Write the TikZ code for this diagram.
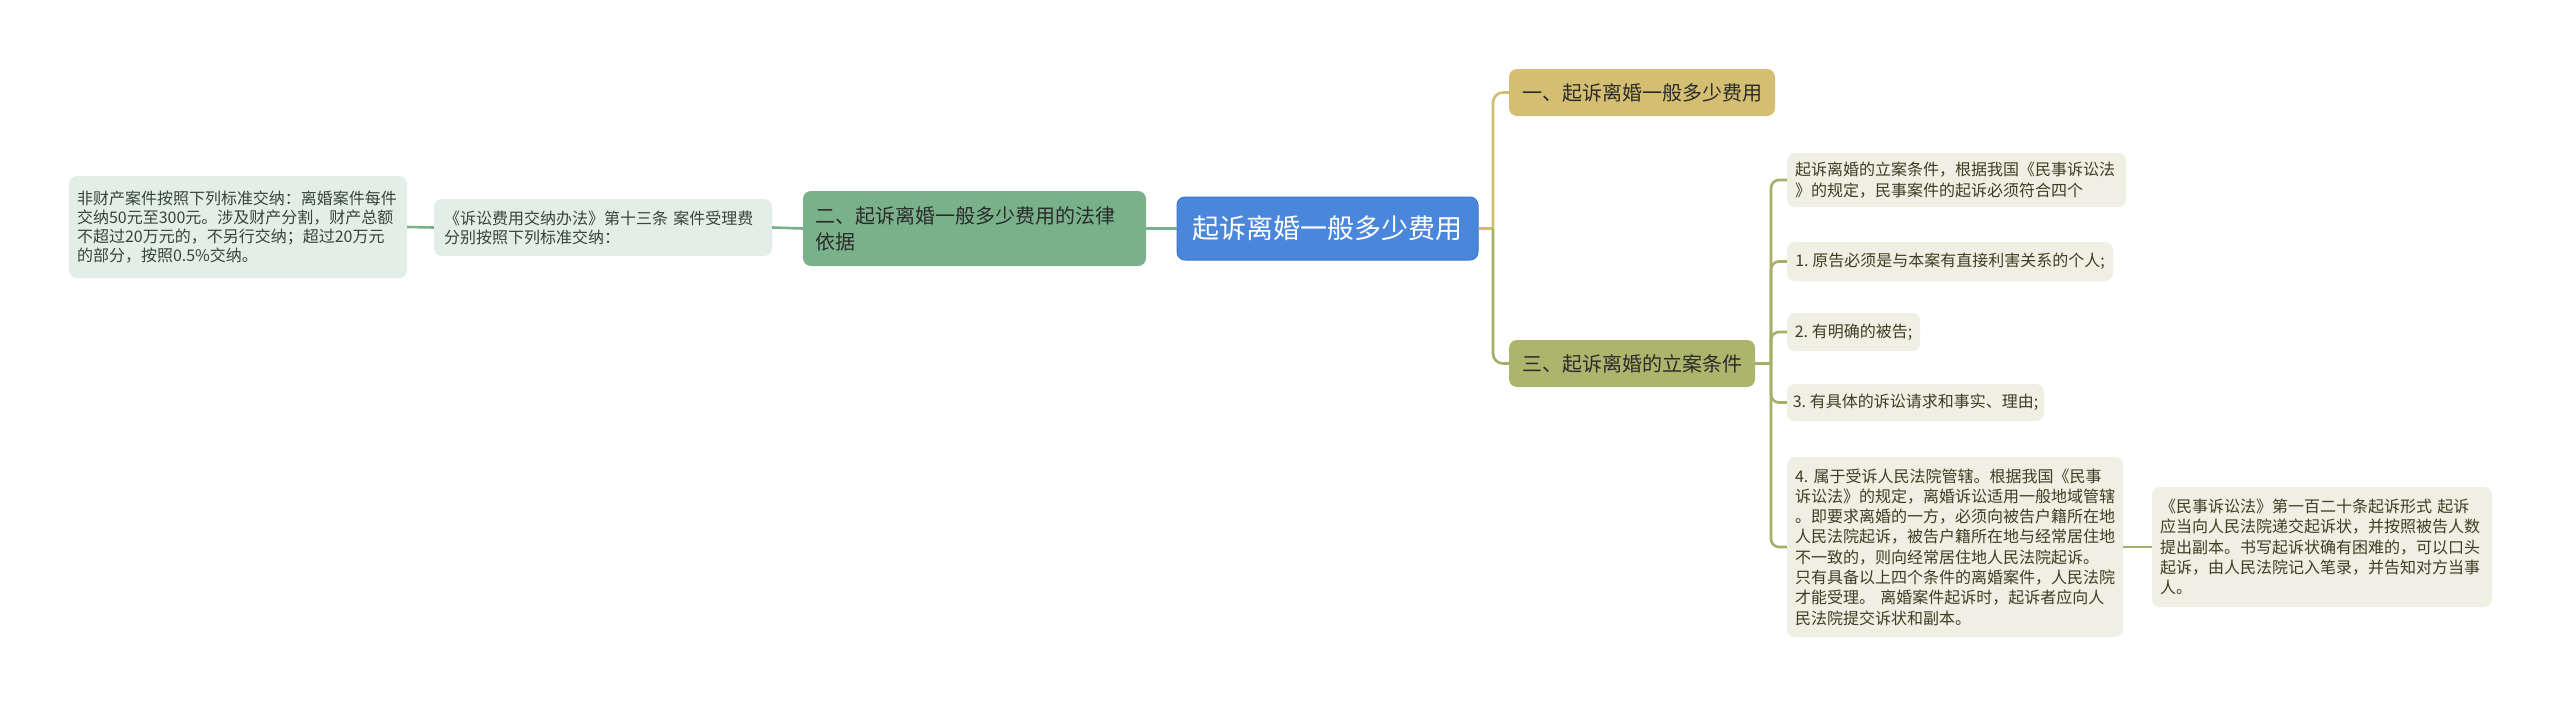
\documentclass[tikz,border=0pt]{standalone}
\usepackage{fontspec}
\setmainfont{Noto Sans CJK SC}
\definecolor{rootblue}{HTML}{4A86DA}
\definecolor{rootedge}{HTML}{3E77C9}
\definecolor{gfill}{HTML}{79B18B}
\definecolor{gline}{HTML}{7AAF8B}
\definecolor{goldfill}{HTML}{D4BE72}
\definecolor{goldline}{HTML}{D2BC6E}
\definecolor{olivefill}{HTML}{ADB56D}
\definecolor{oliveline}{HTML}{A7AF66}
\definecolor{lgfill}{HTML}{E4EEE8}
\definecolor{lofill}{HTML}{EFEFE3}
\definecolor{lgtext}{HTML}{34453A}
\definecolor{lotext}{HTML}{3E3E26}
\definecolor{dtext}{HTML}{2B2B2B}
\tikzset{
  box/.style={rounded corners=8pt, inner ysep=0pt, anchor=center},
  leafg/.style={box, fill=lgfill, text=lgtext, font=\fontsize{16}{19}\selectfont, align=left},
  leafo/.style={box, fill=lofill, text=lotext, font=\fontsize{16}{20.3}\selectfont, align=left},
  topic/.style={box, text=dtext, font=\fontsize{20}{26}\selectfont, align=left},
  rootbox/.style={box, fill=rootblue, draw=rootedge, line width=1pt, text=white, font=\fontsize{27}{32}\selectfont, align=center},
  conn/.style={line width=2.6pt, rounded corners=10pt},
}
\begin{document}
\begin{tikzpicture}[x=1pt,y=-1pt]
\fill[white] (0,0) rectangle (2560,707);
\useasboundingbox (0,0) rectangle (2560,707);

% left side
\node[leafg, minimum width=338pt, minimum height=102pt, inner xsep=8pt, text width=322pt] (fee) at (238,227)
  {非财产案件按照下列标准交纳：离婚案件每件\\交纳50元至300元。涉及财产分割，财产总额\\不超过20万元的，不另行交纳；超过20万元\\的部分，按照0.5\%交纳。};
\node[leafg, minimum width=338pt, minimum height=57pt, inner xsep=10pt, text width=318pt] (law) at (603,227.5)
  {《诉讼费用交纳办法》第十三条~案件受理费\\分别按照下列标准交纳：};
\node[topic, fill=gfill, minimum width=343pt, minimum height=75pt, inner xsep=12pt, text width=319pt] (basis) at (974.5,228.5)
  {二、起诉离婚一般多少费用的法律\\依据};

% root
\node[rootbox, minimum width=301pt, minimum height=63pt] (root) at (1327.5,228.5) {起诉离婚一般多少费用};

% right topics
\node[topic, fill=goldfill, minimum width=266pt, minimum height=47pt, align=center] (cost) at (1642,92.5) {一、起诉离婚一般多少费用};
\node[topic, fill=olivefill, minimum width=246pt, minimum height=47pt, align=center] (cond) at (1632,363.5) {三、起诉离婚的立案条件};

% right leaves
\node[leafo, minimum width=339pt, minimum height=54pt, inner xsep=8pt, text width=323pt] (c0) at (1956.5,180)
  {起诉离婚的立案条件，根据我国《民事诉讼法\\》的规定，民事案件的起诉必须符合四个};
\node[leafo, minimum width=326pt, minimum height=39pt, align=center] (c1) at (1950,261.5) {1.~原告必须是与本案有直接利害关系的个人;};
\node[leafo, minimum width=133pt, minimum height=38pt, align=center] (c2) at (1853.5,332) {2.~有明确的被告;};
\node[leafo, minimum width=257pt, minimum height=37pt, align=center] (c3) at (1915.5,402.5) {3.~有具体的诉讼请求和事实、理由;};
\node[leafo, minimum width=336pt, minimum height=180pt, inner xsep=8pt, text width=320pt] (c4) at (1955,547)
  {4.~属于受诉人民法院管辖。根据我国《民事\\诉讼法》的规定，离婚诉讼适用一般地域管辖\\。即要求离婚的一方，必须向被告户籍所在地\\人民法院起诉，被告户籍所在地与经常居住地\\不一致的，则向经常居住地人民法院起诉。\\只有具备以上四个条件的离婚案件，人民法院\\才能受理。~离婚案件起诉时，起诉者应向人\\民法院提交诉状和副本。};
\node[leafo, minimum width=340pt, minimum height=120pt, inner xsep=8pt, text width=324pt] (form) at (2322,547)
  {《民事诉讼法》第一百二十条起诉形式~起诉\\应当向人民法院递交起诉状，并按照被告人数\\提出副本。书写起诉状确有困难的，可以口头\\起诉，由人民法院记入笔录，并告知对方当事\\人。};

% spine coordinates
\coordinate (s1) at (1493,228.5);
\coordinate (s2) at (1771,363.5);

% connectors
\draw[conn, draw=gline] (root.west) -- (basis.east);
\draw[conn, draw=gline] (basis.west) -- (law.east);
\draw[conn, draw=gline] (law.west) -- (fee.east);

\draw[conn, draw=goldline] (root.east) -- (s1);
\draw[conn, draw=goldline] (s1) |- (cost.west);
\draw[conn, draw=oliveline] (s1) |- (cond.west);

\draw[conn, draw=oliveline] (cond.east) -- (s2);
\foreach \c in {c0,c1,c2,c3,c4}
  \draw[conn, draw=oliveline, rounded corners=8pt] (s2) |- (\c.west);
\draw[conn, draw=oliveline] (c4.east) -- (form.west);
\end{tikzpicture}
\end{document}
